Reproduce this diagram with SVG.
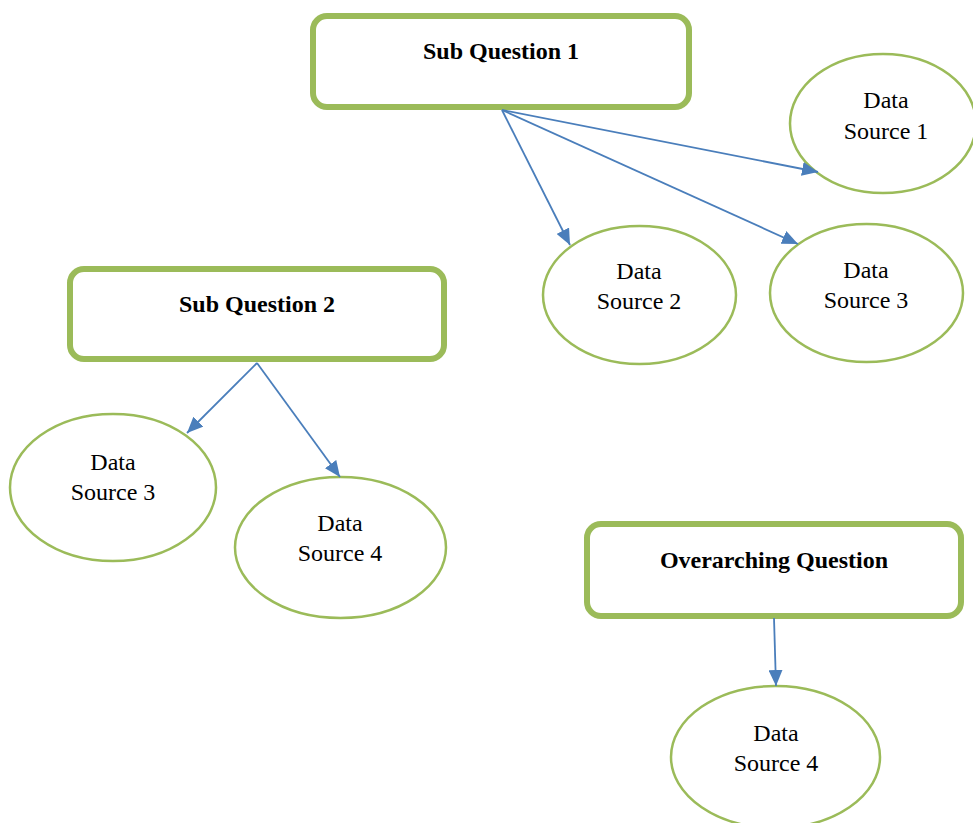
<svg xmlns="http://www.w3.org/2000/svg" width="973" height="823" viewBox="0 0 973 823">
<style>
.box{fill:#fff;stroke:#9bbb59;stroke-width:6}
.ell{fill:#fff;stroke:#9bbb59;stroke-width:2.5}
.t{font-family:"Liberation Serif",serif;font-size:24px;fill:#000;text-anchor:middle}
.b{font-weight:bold;font-size:24px}
.c{stroke:#4a7ebb;stroke-width:1.8;fill:none;marker-end:url(#ah)}
</style>
<defs>
<marker id="ah" markerUnits="userSpaceOnUse" markerWidth="16" markerHeight="14" viewBox="0 0 16 14" refX="16" refY="7" orient="auto">
<path d="M0,0 L16,7 L0,14 Z" fill="#4a7ebb"/>
</marker>
</defs>
<rect width="973" height="823" fill="#fff"/>
<g id="sq1"><rect class="box" x="313" y="16" width="376" height="91" rx="14"/><text class="t b" x="501" y="59">Sub Question 1</text></g>
<g id="sq2"><rect class="box" x="70" y="269" width="374" height="90" rx="14"/><text class="t b" x="257" y="312">Sub Question 2</text></g>
<g id="oq"><rect class="box" x="587" y="524" width="374" height="92" rx="14"/><text class="t b" x="774" y="568">Overarching Question</text></g>
<g id="ds1"><ellipse class="ell" cx="883" cy="123.5" rx="93" ry="69.5"/><text class="t" x="886" y="108">Data</text><text class="t" x="886" y="139">Source 1</text></g>
<g id="ds2"><ellipse class="ell" cx="639.5" cy="295" rx="96.5" ry="69"/><text class="t" x="639" y="279">Data</text><text class="t" x="639" y="309">Source 2</text></g>
<g id="ds3a"><ellipse class="ell" cx="866.5" cy="293" rx="96.5" ry="69"/><text class="t" x="866" y="278">Data</text><text class="t" x="866" y="308">Source 3</text></g>
<g id="ds3b"><ellipse class="ell" cx="113" cy="487.5" rx="103" ry="73.5"/><text class="t" x="113" y="470">Data</text><text class="t" x="113" y="500">Source 3</text></g>
<g id="ds4a"><ellipse class="ell" cx="340.5" cy="547.5" rx="105.5" ry="70.5"/><text class="t" x="340" y="531">Data</text><text class="t" x="340" y="561">Source 4</text></g>
<g id="ds4b"><ellipse class="ell" cx="775.5" cy="757" rx="104.5" ry="71"/><text class="t" x="776" y="741">Data</text><text class="t" x="776" y="771">Source 4</text></g>
<g id="connectors">
<line class="c" x1="502" y1="110" x2="818" y2="172"/>
<line class="c" x1="502" y1="110" x2="570" y2="245"/>
<line class="c" x1="502" y1="110" x2="798" y2="244"/>
<line class="c" x1="257" y1="363" x2="187" y2="433"/>
<line class="c" x1="257" y1="363" x2="340" y2="477"/>
<line class="c" x1="774" y1="618" x2="776" y2="686"/>
</g>
</svg>
